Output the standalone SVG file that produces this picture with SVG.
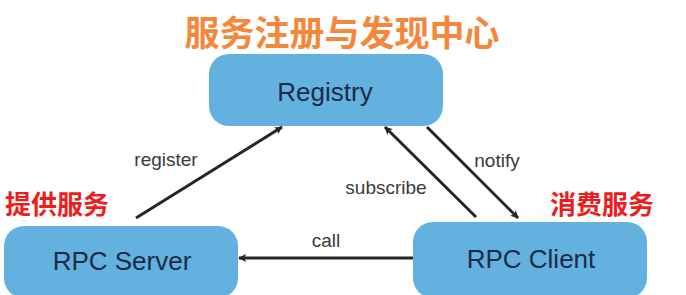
<svg xmlns="http://www.w3.org/2000/svg" width="686" height="295" viewBox="0 0 686 295">
  <defs>
    <marker id="arrow" viewBox="0 0 10 10" refX="9" refY="5" markerWidth="8" markerHeight="8" markerUnits="userSpaceOnUse" orient="auto">
      <path d="M0,0 L10,5 L0,10 L2.5,5 Z" fill="#2b2421"/>
    </marker>
    <style>
      .box { fill: #63b1de; }
      .nodeText { font-family: "Liberation Sans", Arial, sans-serif; font-size: 26px; fill: #1c2b4a; text-anchor: middle; }
      .edge { stroke: #2b2421; stroke-width: 3; fill: none; marker-end: url(#arrow); }
      .edgeText { font-family: "Liberation Sans", Arial, sans-serif; font-size: 19px; fill: #3a3a3a; text-anchor: middle; }
      .title { font-family: "Noto Sans CJK SC", sans-serif; font-weight: bold; font-size: 35px; fill: #f5873a; text-anchor: middle; }
      .role { font-family: "Noto Sans CJK SC", sans-serif; font-weight: bold; font-size: 26px; fill: #ee1c1c; text-anchor: middle; }
    </style>
  </defs>
  <rect width="686" height="295" fill="#ffffff"/>

  <text class="title" x="342" y="46">服务注册与发现中心</text>
  <text class="role" x="57" y="214">提供服务</text>
  <text class="role" x="602" y="214">消费服务</text>

  <g id="registry">
    <rect class="box" x="209" y="54" width="234" height="72" rx="20"/>
    <text class="nodeText" x="325" y="101">Registry</text>
  </g>
  <g id="rpc-server">
    <rect class="box" x="4" y="226" width="234" height="72" rx="20"/>
    <text class="nodeText" x="122" y="270">RPC Server</text>
  </g>
  <g id="rpc-client">
    <rect class="box" x="413" y="222" width="234" height="76" rx="20"/>
    <text class="nodeText" x="531" y="268">RPC Client</text>
  </g>

  <g id="connectors">
    <line class="edge" x1="136" y1="218" x2="282" y2="127"/>
    <line class="edge" x1="476" y1="217" x2="385" y2="127"/>
    <line class="edge" x1="427" y1="127" x2="518" y2="218"/>
    <line class="edge" x1="413" y1="258" x2="239" y2="258"/>
    <text class="edgeText" x="166" y="166">register</text>
    <text class="edgeText" x="497" y="167">notify</text>
    <text class="edgeText" x="386" y="194">subscribe</text>
    <text class="edgeText" x="326" y="247">call</text>
  </g>
</svg>
